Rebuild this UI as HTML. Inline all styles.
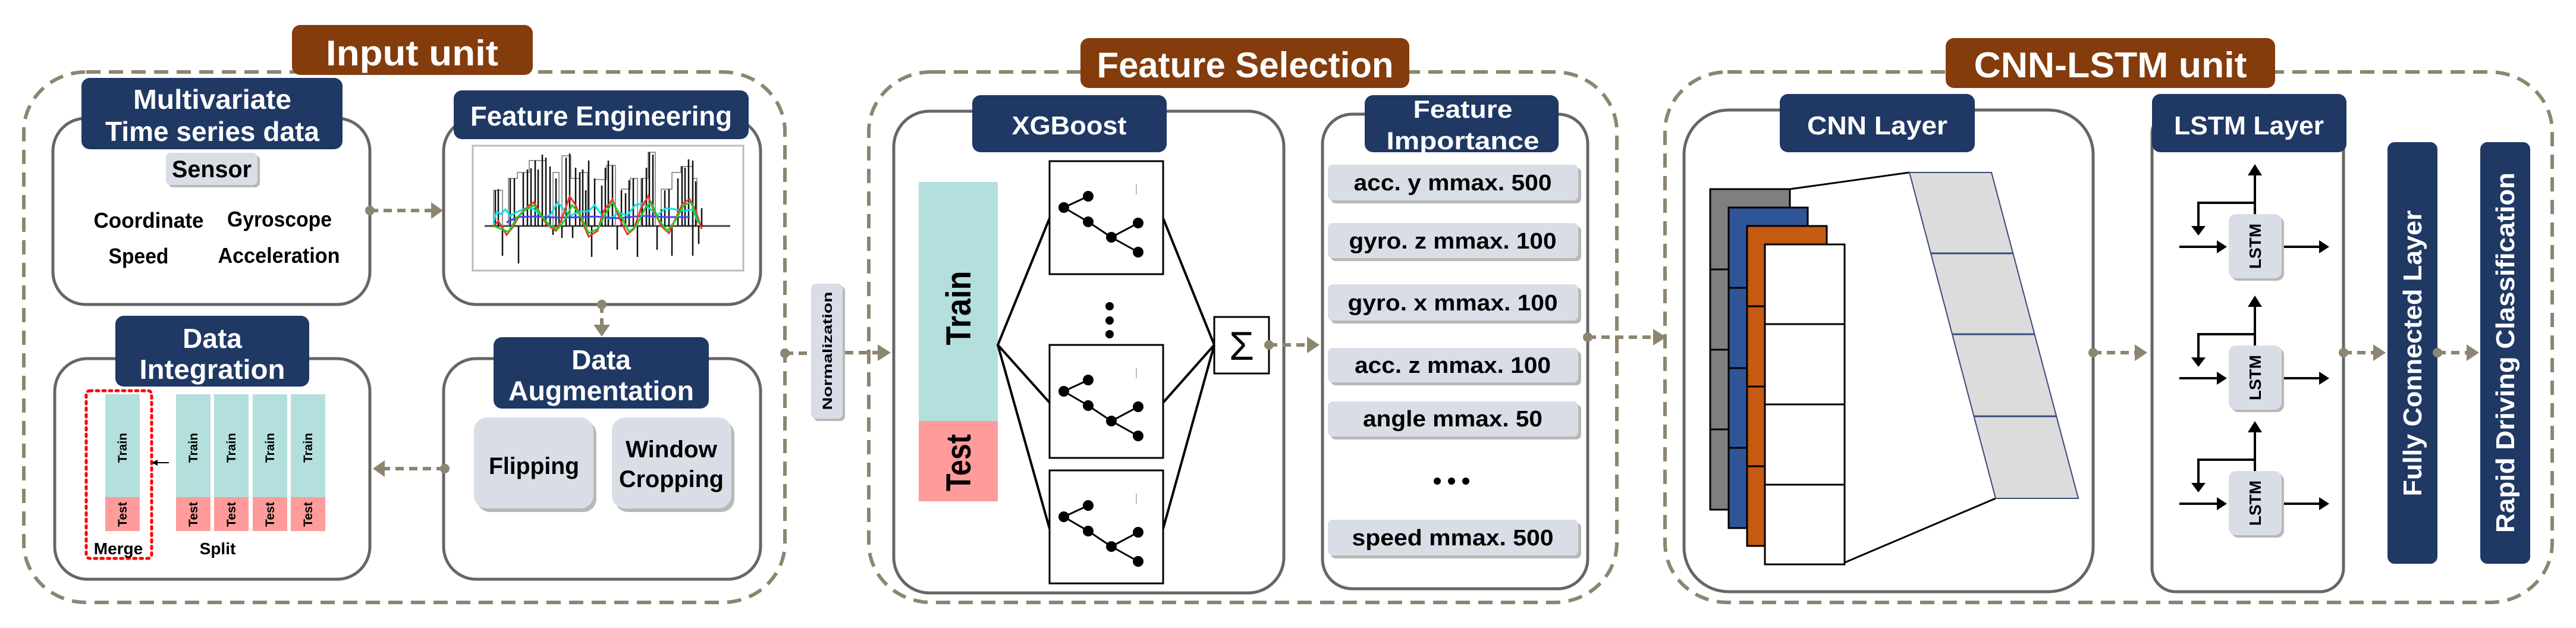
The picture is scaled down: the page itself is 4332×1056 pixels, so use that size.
<!DOCTYPE html>
<html><head><meta charset="utf-8"><style>
html,body{margin:0;padding:0;background:#fff;}
svg{display:block;}
text{font-family:"Liberation Sans",Arial,sans-serif;}
</style></head><body>
<svg width="4332" height="1056" viewBox="0 0 4332 1056" xmlns="http://www.w3.org/2000/svg">
<defs>
<marker id="ah" markerWidth="10" markerHeight="10" refX="9" refY="5" orient="auto" markerUnits="userSpaceOnUse"><path d="M0,0 L10,5 L0,10 z" fill="#000"/></marker>
</defs>
<rect width="4332" height="1056" fill="#fff"/>

<!-- ============ OUTER DASHED CONTAINERS ============ -->
<g fill="none" stroke="#8c8670" stroke-width="6" stroke-dasharray="24 14">
<rect x="40" y="121" width="1280" height="892" rx="105" ry="100"/>
<rect x="1461" y="121" width="1258" height="892" rx="105" ry="100"/>
<rect x="2800" y="121" width="1492" height="892" rx="105" ry="100"/>
</g>

<!-- titles -->
<rect x="491" y="42" width="405" height="84" rx="14" fill="#843c0c"/>
<text x="693" y="110" font-size="60" font-weight="bold" fill="#fff" text-anchor="middle" textLength="290" lengthAdjust="spacingAndGlyphs">Input unit</text>
<rect x="1817" y="64" width="553" height="84" rx="14" fill="#843c0c"/>
<text x="2094" y="130" font-size="60" font-weight="bold" fill="#fff" text-anchor="middle" textLength="499" lengthAdjust="spacingAndGlyphs">Feature Selection</text>
<rect x="3272" y="64" width="554" height="84" rx="14" fill="#843c0c"/>
<text x="3549" y="130" font-size="60" font-weight="bold" fill="#fff" text-anchor="middle" textLength="459" lengthAdjust="spacingAndGlyphs">CNN-LSTM unit</text>

<!-- ============ INPUT UNIT ============ -->
<g fill="#fff" stroke="#666" stroke-width="5">
<rect x="89" y="199" width="533" height="313" rx="55"/>
<rect x="746" y="199" width="533" height="313" rx="55"/>
<rect x="92" y="603" width="530" height="371" rx="55"/>
<rect x="746" y="603" width="533" height="371" rx="55"/>
</g>
<!-- headers -->
<g fill="#1f3864">
<rect x="137" y="131" width="439" height="120" rx="14"/>
<rect x="763" y="152" width="496" height="82" rx="14"/>
<rect x="194" y="531" width="326" height="119" rx="14"/>
<rect x="830" y="567" width="362" height="120" rx="14"/>
</g>
<g fill="#fff" font-weight="bold" font-size="46" text-anchor="middle">
<text x="357" y="183" textLength="266" lengthAdjust="spacingAndGlyphs">Multivariate</text>
<text x="357" y="237" textLength="360" lengthAdjust="spacingAndGlyphs">Time series data</text>
<text x="1011" y="211" textLength="440" lengthAdjust="spacingAndGlyphs">Feature Engineering</text>
<text x="357" y="585">Data</text>
<text x="357" y="637" textLength="245" lengthAdjust="spacingAndGlyphs">Integration</text>
<text x="1011" y="621">Data</text>
<text x="1011" y="673" textLength="312" lengthAdjust="spacingAndGlyphs">Augmentation</text>
</g>
<!-- sensor -->
<rect x="283" y="261" width="154" height="54" rx="8" fill="#b8b8b8"/>
<rect x="279" y="257" width="154" height="54" rx="8" fill="#d9dde6"/>
<text x="356" y="298" font-size="40" font-weight="bold" text-anchor="middle" textLength="134" lengthAdjust="spacingAndGlyphs">Sensor</text>
<g font-size="36" font-weight="bold" text-anchor="middle">
<text x="250" y="383" textLength="185" lengthAdjust="spacingAndGlyphs">Coordinate</text>
<text x="470" y="381" textLength="176" lengthAdjust="spacingAndGlyphs">Gyroscope</text>
<text x="233" y="443" textLength="101" lengthAdjust="spacingAndGlyphs">Speed</text>
<text x="469" y="442" textLength="205" lengthAdjust="spacingAndGlyphs">Acceleration</text>
</g>

<!-- chart -->
<rect x="795" y="245" width="455" height="210" fill="#fff" stroke="#bbb" stroke-width="3"/>
<line x1="815" y1="380" x2="1228" y2="380" stroke="#444" stroke-width="3"/>
<path fill="none" stroke="#999" stroke-width="2" d="M830,380 V320 H845 V380 M855,380 V300 H870 V290 H890 V270 H918 V380 M930,380 V290 H940 V380 M945,380 V262 H960 V300 H975 V290 H988 V380 M1000,380 V302 H1020 V278 H1035 V380 M1045,380 V318 H1060 V300 H1072 V380 M1078,380 V300 H1090 V256 H1102 V380 M1112,380 V318 H1130 V290 H1145 V280 H1165 V300 H1172 V380"/>
<path fill="none" stroke="#111" stroke-width="2.5" d="M833,380V320 M838,380V318 M845,380V430 M858,380V300 M865,380V300 M872,380V443 M880,380V290 M887,380V285 M893,380V283 M900,380V270 M905,380V285 M912,380V260 M918,380V265 M925,380V280 M930,380V395 M935,380V300 M940,380V345 M945,380V400 M952,380V265 M958,380V258 M963,380V400 M968,380V282 M975,380V290 M980,380V285 M985,380V320 M990,380V270 M995,380V432 M1000,380V300 M1012,380V312 M1018,380V282 M1023,380V270 M1030,380V278 M1038,380V420 M1045,380V320 M1052,380V325 M1058,380V303 M1065,380V300 M1072,380V432 M1080,380V300 M1087,380V282 M1092,380V256 M1098,380V260 M1105,380V420 M1112,380V352 M1118,380V320 M1125,380V318 M1130,380V430 M1140,380V300 M1147,380V280 M1152,380V282 M1158,380V268 M1165,380V270 M1170,380V305 M1175,380V410 M1180,380V350 M1165,380V430"/>
<polyline fill="none" stroke="#00e5e5" stroke-width="3" points="830,375 835,356 842,360 850,352 858,363 868,357 880,352 895,350 905,358 912,365 925,362 938,340 948,352 960,362 975,356 990,355 1000,345 1012,362 1025,368 1040,358 1055,362 1068,345 1080,342 1092,350 1105,362 1120,350 1135,352 1150,355 1165,352 1172,370"/>
<polyline fill="none" stroke="#4444ff" stroke-width="3" points="852,374 870,365 900,364 940,366 980,365 1000,364 1040,367 1080,363 1120,365 1160,365"/>
<polyline fill="none" stroke="#e33" stroke-width="3" points="830,380 838,372 845,383 852,395 862,382 875,360 890,345 898,340 910,362 920,378 935,388 945,368 958,330 968,345 978,370 990,398 1005,388 1015,355 1030,335 1042,368 1055,394 1066,385 1078,350 1090,330 1100,355 1112,380 1125,392 1135,370 1148,342 1160,335 1170,355 1180,385"/>
<polyline fill="none" stroke="#2c2" stroke-width="3" points="830,380 845,386 855,390 870,365 885,352 898,345 910,362 925,380 938,385 950,370 962,345 975,360 990,392 1005,385 1018,360 1030,340 1045,365 1058,390 1070,380 1085,350 1095,340 1108,370 1122,388 1135,372 1150,345 1162,340 1175,375"/>

<!-- augmentation pills -->
<rect x="802" y="708" width="201" height="153" rx="22" fill="#b8b8b8"/>
<rect x="797" y="702" width="201" height="153" rx="22" fill="#d9dde6"/>
<rect x="1034" y="708" width="201" height="153" rx="22" fill="#b8b8b8"/>
<rect x="1029" y="702" width="201" height="153" rx="22" fill="#d9dde6"/>
<g font-size="40" font-weight="bold" text-anchor="middle">
<text x="898" y="797" textLength="152" lengthAdjust="spacingAndGlyphs">Flipping</text>
<text x="1129" y="769" textLength="154" lengthAdjust="spacingAndGlyphs">Window</text>
<text x="1129" y="819" textLength="176" lengthAdjust="spacingAndGlyphs">Cropping</text>
</g>

<!-- data integration bars -->
<g>
<rect x="177" y="663" width="58" height="173" fill="#b3e0dc"/><rect x="177" y="836" width="58" height="57" fill="#ff9b9b"/>
<rect x="296" y="663" width="58" height="173" fill="#b3e0dc"/><rect x="296" y="836" width="58" height="57" fill="#ff9b9b"/>
<rect x="360" y="663" width="58" height="173" fill="#b3e0dc"/><rect x="360" y="836" width="58" height="57" fill="#ff9b9b"/>
<rect x="425" y="663" width="58" height="173" fill="#b3e0dc"/><rect x="425" y="836" width="58" height="57" fill="#ff9b9b"/>
<rect x="489" y="663" width="58" height="173" fill="#b3e0dc"/><rect x="489" y="836" width="58" height="57" fill="#ff9b9b"/>
</g>
<g font-size="21" font-weight="bold" text-anchor="middle">
<text transform="translate(213,753) rotate(-90)">Train</text>
<text transform="translate(332,753) rotate(-90)">Train</text>
<text transform="translate(396,753) rotate(-90)">Train</text>
<text transform="translate(461,753) rotate(-90)">Train</text>
<text transform="translate(525,753) rotate(-90)">Train</text>
<text transform="translate(213,865) rotate(-90)">Test</text>
<text transform="translate(332,865) rotate(-90)">Test</text>
<text transform="translate(396,865) rotate(-90)">Test</text>
<text transform="translate(461,865) rotate(-90)">Test</text>
<text transform="translate(525,865) rotate(-90)">Test</text>
</g>
<rect x="145" y="657" width="110" height="282" rx="6" fill="none" stroke="#f00" stroke-width="5" stroke-dasharray="4 7" stroke-linecap="round"/>
<line x1="284" y1="778" x2="256" y2="778" stroke="#000" stroke-width="2" marker-end="url(#ah)"/>
<g font-size="28" font-weight="bold" text-anchor="middle">
<text x="199" y="932">Merge</text>
<text x="366" y="932">Split</text>
</g>

<!-- normalization -->
<rect x="1368" y="481" width="53" height="227" rx="8" fill="#b8b8b8"/>
<rect x="1364" y="477" width="53" height="227" rx="8" fill="#d9dde6"/>
<text transform="translate(1399,590) rotate(-90)" font-size="22" font-weight="bold" text-anchor="middle" textLength="199" lengthAdjust="spacingAndGlyphs">Normalization</text>

<!-- ============ FEATURE SELECTION ============ -->
<g fill="#fff" stroke="#666" stroke-width="5">
<rect x="1503" y="187" width="656" height="810" rx="60"/>
<rect x="2224" y="192" width="446" height="798" rx="50"/>
</g>
<rect x="1635" y="160" width="327" height="96" rx="14" fill="#1f3864"/>
<rect x="2295" y="160" width="326" height="96" rx="14" fill="#1f3864"/>
<g fill="#fff" font-weight="bold" text-anchor="middle">
<text x="1798" y="226" font-size="44" textLength="193" lengthAdjust="spacingAndGlyphs">XGBoost</text>
<text x="2460" y="198" font-size="42" textLength="167" lengthAdjust="spacingAndGlyphs">Feature</text>
<text x="2460" y="251" font-size="42" textLength="257" lengthAdjust="spacingAndGlyphs">Importance</text>
</g>
<rect x="1545" y="306" width="133" height="402" fill="#b3e0dc"/>
<rect x="1545" y="708" width="133" height="135" fill="#ff9b9b"/>
<g font-size="58" font-weight="bold" text-anchor="middle">
<text transform="translate(1632,518) rotate(-90)" textLength="125" lengthAdjust="spacingAndGlyphs">Train</text>
<text transform="translate(1632,778) rotate(-90)" textLength="96" lengthAdjust="spacingAndGlyphs">Test</text>
</g>
<!-- fan lines -->
<g stroke="#000" stroke-width="4" fill="none">
<polyline points="1765,367 1678,580 1765,677"/>
<line x1="1678" y1="580" x2="1765" y2="889"/>
<polyline points="1956,367 2042,580 1956,677"/>
<line x1="2042" y1="580" x2="1956" y2="889"/>
</g>
<!-- trees -->
<g id="tree1">
<rect x="1765" y="271" width="191" height="190" fill="#fff" stroke="#000" stroke-width="3"/>
<g stroke="#000" stroke-width="3"><line x1="1789" y1="349" x2="1830" y2="330"/><line x1="1789" y1="349" x2="1830" y2="373"/><line x1="1830" y1="373" x2="1869" y2="399"/><line x1="1869" y1="399" x2="1914" y2="375"/><line x1="1869" y1="399" x2="1914" y2="424"/></g>
<g fill="#000"><circle cx="1789" cy="349" r="9"/><circle cx="1830" cy="330" r="9"/><circle cx="1830" cy="373" r="9"/><circle cx="1869" cy="399" r="9"/><circle cx="1914" cy="375" r="9"/><circle cx="1914" cy="424" r="9"/></g>
<line x1="1911" y1="310" x2="1911" y2="327" stroke="#bbb" stroke-width="2"/>
</g>
<use href="#tree1" x="0" y="309"/>
<use href="#tree1" x="0" y="520"/>
<g fill="#000"><circle cx="1866" cy="515" r="7"/><circle cx="1866" cy="539" r="7"/><circle cx="1866" cy="562" r="7"/></g>
<rect x="2042" y="533" width="92" height="95" fill="#fff" stroke="#000" stroke-width="3"/>
<text x="2088" y="605" font-size="68" text-anchor="middle">Σ</text>

<!-- FI items -->
<g>
<rect x="2238" y="282" width="421" height="60" rx="8" fill="#b8b8b8"/><rect x="2233" y="277" width="421" height="60" rx="8" fill="#d9dde6"/>
<rect x="2238" y="380" width="421" height="59" rx="8" fill="#b8b8b8"/><rect x="2233" y="375" width="421" height="59" rx="8" fill="#d9dde6"/>
<rect x="2238" y="483" width="421" height="61" rx="8" fill="#b8b8b8"/><rect x="2233" y="478" width="421" height="61" rx="8" fill="#d9dde6"/>
<rect x="2238" y="590" width="421" height="58" rx="8" fill="#b8b8b8"/><rect x="2233" y="585" width="421" height="58" rx="8" fill="#d9dde6"/>
<rect x="2238" y="680" width="421" height="59" rx="8" fill="#b8b8b8"/><rect x="2233" y="675" width="421" height="59" rx="8" fill="#d9dde6"/>
<rect x="2238" y="879" width="421" height="60" rx="8" fill="#b8b8b8"/><rect x="2233" y="874" width="421" height="60" rx="8" fill="#d9dde6"/>
</g>
<g font-size="38" font-weight="bold" text-anchor="middle">
<text x="2443" y="320" textLength="333" lengthAdjust="spacingAndGlyphs">acc. y mmax. 500</text>
<text x="2443" y="418" textLength="349" lengthAdjust="spacingAndGlyphs">gyro. z mmax. 100</text>
<text x="2443" y="522" textLength="353" lengthAdjust="spacingAndGlyphs">gyro. x mmax. 100</text>
<text x="2443" y="627" textLength="330" lengthAdjust="spacingAndGlyphs">acc. z mmax. 100</text>
<text x="2443" y="717" textLength="302" lengthAdjust="spacingAndGlyphs">angle mmax. 50</text>
<text x="2443" y="917" textLength="339" lengthAdjust="spacingAndGlyphs">speed mmax. 500</text>
</g>
<g fill="#000"><circle cx="2417" cy="809" r="6"/><circle cx="2441" cy="809" r="6"/><circle cx="2465" cy="809" r="6"/></g>

<!-- ============ CNN-LSTM ============ -->
<g fill="#fff" stroke="#666" stroke-width="5">
<rect x="2832" y="185" width="688" height="810" rx="75"/>
<rect x="3619" y="185" width="322" height="810" rx="40"/>
</g>
<rect x="2993" y="158" width="328" height="98" rx="14" fill="#1f3864"/>
<rect x="3619" y="158" width="327" height="98" rx="14" fill="#1f3864"/>
<g fill="#fff" font-weight="bold" text-anchor="middle" font-size="44">
<text x="3157" y="226" textLength="236" lengthAdjust="spacingAndGlyphs">CNN Layer</text>
<text x="3782" y="226" textLength="252" lengthAdjust="spacingAndGlyphs">LSTM Layer</text>
</g>
<!-- feature maps -->
<g stroke="#000" stroke-width="3">
<rect x="2876" y="318" width="134" height="539" fill="#7f7f7f"/>
<line x1="2876" y1="453" x2="2907" y2="453"/><line x1="2876" y1="588" x2="2907" y2="588"/><line x1="2876" y1="722" x2="2907" y2="722"/>
<rect x="2907" y="349" width="133" height="539" fill="#2f5597"/>
<line x1="2907" y1="484" x2="2938" y2="484"/><line x1="2907" y1="619" x2="2938" y2="619"/><line x1="2907" y1="753" x2="2938" y2="753"/>
<rect x="2938" y="380" width="134" height="538" fill="#c55a11"/>
<line x1="2938" y1="515" x2="2968" y2="515"/><line x1="2938" y1="650" x2="2968" y2="650"/><line x1="2938" y1="784" x2="2968" y2="784"/>
<rect x="2968" y="411" width="134" height="538" fill="#fff"/>
<line x1="2968" y1="545" x2="3102" y2="545"/><line x1="2968" y1="680" x2="3102" y2="680"/><line x1="2968" y1="815" x2="3102" y2="815"/>
<line x1="3010" y1="318" x2="3211" y2="290"/>
<line x1="3102" y1="946" x2="3356" y2="838"/>
</g>
<polygon points="3211,290 3349,290 3495,838 3356,838" fill="#dcdcdc" stroke="#3a4a7a" stroke-width="2"/>
<g stroke="#3a4a7a" stroke-width="3">
<line x1="3247" y1="426" x2="3385" y2="426"/>
<line x1="3283" y1="562" x2="3421" y2="562"/>
<line x1="3320" y1="700" x2="3458" y2="700"/>
</g>

<!-- LSTM cells -->
<g id="cell">
<g stroke="#000" stroke-width="4" fill="none">
<line x1="3792" y1="360" x2="3792" y2="292"/>
<polyline points="3792,341 3697,341 3697,382"/>
<line x1="3665" y1="415" x2="3730" y2="415"/>
<line x1="3840" y1="415" x2="3902" y2="415"/>
</g>
<g fill="#000">
<polygon points="3780,295 3792,276 3804,295"/>
<polygon points="3685,380 3709,380 3697,396"/>
<polygon points="3728,404 3745,415 3728,426"/>
<polygon points="3900,404 3917,415 3900,426"/>
</g>
<rect x="3752" y="364" width="89" height="108" rx="12" fill="#b8b8b8"/>
<rect x="3748" y="360" width="89" height="108" rx="12" fill="#d9dde6"/>
<text transform="translate(3802,414) rotate(-90)" font-size="28" font-weight="bold" text-anchor="middle">LSTM</text>
</g>
<use href="#cell" x="0" y="221"/>
<use href="#cell" x="0" y="432"/>

<!-- FC + RDC -->
<rect x="4015" y="239" width="84" height="709" rx="12" fill="#1f3864"/>
<rect x="4171" y="239" width="84" height="709" rx="12" fill="#1f3864"/>
<g fill="#fff" font-weight="bold" text-anchor="middle" font-size="44">
<text transform="translate(4072,594) rotate(-90)" textLength="481" lengthAdjust="spacingAndGlyphs">Fully Connected Layer</text>
<text transform="translate(4228,593) rotate(-90)" textLength="606" lengthAdjust="spacingAndGlyphs">Rapid Driving Classification</text>
</g>

<!-- ============ CONNECTORS ============ -->
<g stroke="#8c8670" stroke-width="6" stroke-dasharray="14 9" fill="none">
<line x1="622" y1="354" x2="730" y2="354"/>
<line x1="1012" y1="512" x2="1012" y2="550"/>
<line x1="748" y1="788" x2="640" y2="788"/>
<line x1="1320" y1="594" x2="1364" y2="594"/>
<line x1="1421" y1="593" x2="1480" y2="593"/>
<line x1="2134" y1="580" x2="2202" y2="580"/>
<line x1="2670" y1="567" x2="2786" y2="567"/>
<line x1="3520" y1="593" x2="3596" y2="593"/>
<line x1="3941" y1="593" x2="3996" y2="593"/>
<line x1="4099" y1="593" x2="4153" y2="593"/>
</g>
<g fill="#8c8670">
<circle cx="622" cy="354" r="8"/><polygon points="725,340 745,354 725,368"/>
<circle cx="1012" cy="512" r="8"/><polygon points="998,546 1026,546 1012,566"/>
<circle cx="748" cy="788" r="8"/><polygon points="647,774 627,788 647,802"/>
<circle cx="1320" cy="594" r="8"/>
<polygon points="1476,579 1498,593 1476,607"/>
<circle cx="2134" cy="580" r="8"/><polygon points="2198,566 2219,580 2198,594"/>
<circle cx="2670" cy="567" r="8"/><polygon points="2780,553 2802,567 2780,581"/>
<circle cx="3520" cy="593" r="8"/><polygon points="3590,579 3611,593 3590,607"/>
<circle cx="3941" cy="593" r="8"/><polygon points="3991,579 4012,593 3991,607"/>
<circle cx="4099" cy="593" r="8"/><polygon points="4148,579 4169,593 4148,607"/>
</g>
</svg>
</body></html>
